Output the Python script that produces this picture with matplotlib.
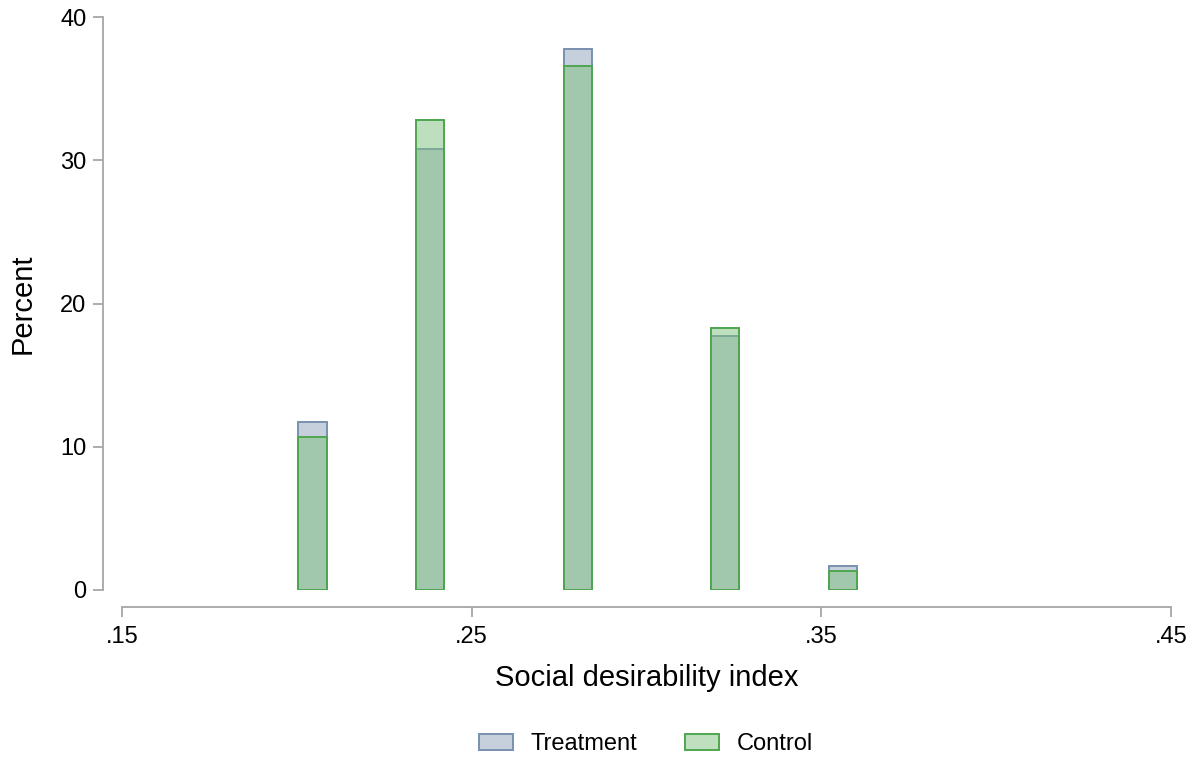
import matplotlib.pyplot as plt
import matplotlib.patches as mpatches
import numpy as np

plt.rcParams['font.family'] = ['Liberation Sans', 'DejaVu Sans']

# bin centres of the social desirability index
bins = [0.2045, 0.2380, 0.2804, 0.3224, 0.3562]
# percent per bin
treatment = [11.7, 30.8, 37.8, 17.7, 1.7]
control = [10.7, 32.8, 36.6, 18.3, 1.3]

xticks = [0.15, 0.25, 0.35, 0.45]
xtick_labels = [".15", ".25", ".35", ".45"]
yticks = [0, 10, 20, 30, 40]

fig = plt.figure(figsize=(11.96, 7.57), dpi=100)
ax = fig.add_axes([122/1196, 167/757, 1049/1196, 573/757])

w = 0.0081
ax.bar(bins, treatment, width=w, color='#c5d0dc', edgecolor='#7891ae', linewidth=1.4)
ax.bar(bins, control, width=w, color=(127/255, 193/255, 127/255, 0.5),
       edgecolor='#4fa64f', linewidth=1.4)

ax.set_xlim(0.15, 0.45)
ax.set_ylim(0, 40)
ax.set_xticks(xticks)
ax.set_xticklabels(xtick_labels)
ax.set_yticks(yticks)

for s in ['top', 'right']:
    ax.spines[s].set_visible(False)
ax.spines['left'].set_position(('outward', 13.7))
ax.spines['bottom'].set_position(('outward', 12.2))
for s in ['left', 'bottom']:
    ax.spines[s].set_color('#a6a6a6')
    ax.spines[s].set_linewidth(1.3)
ax.tick_params(axis='both', colors='#a6a6a6', length=7, width=1.3,
               labelsize=17, labelcolor='black')
ax.tick_params(axis='y', pad=5)
ax.tick_params(axis='x', pad=7)

ax.set_ylabel('Percent', fontsize=21, labelpad=17)
ax.set_xlabel('Social desirability index', fontsize=21, labelpad=11)

t_patch = mpatches.Patch(facecolor='#c5d0dc', edgecolor='#7891ae', linewidth=1.4, label='Treatment')
c_patch = mpatches.Patch(facecolor='#bfe0bf', edgecolor='#4fa64f', linewidth=1.4, label='Control')
fig.legend(handles=[t_patch, c_patch], loc='center', bbox_to_anchor=(0.54, 0.017),
           ncol=2, frameon=False, fontsize=17, handlelength=1.45, handleheight=0.65,
           columnspacing=2.0, handletextpad=0.76)

plt.savefig('out.png', dpi=100)
